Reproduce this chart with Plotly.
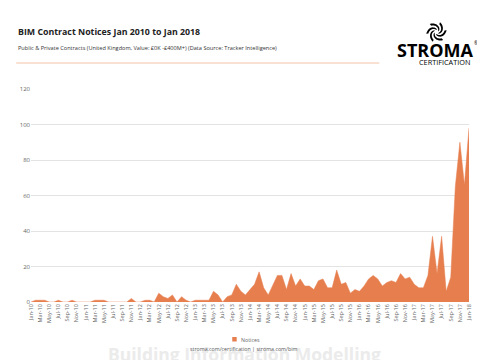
import numpy as np
import plotly.graph_objects as go

months = ["Jan", "Feb", "Mar", "Apr", "May", "Jun", "Jul", "Aug", "Sep", "Oct", "Nov", "Dec"]
categories = [f"{m}-{y:02d}" for y in range(10, 18) for m in months] + ["Jan-18"]

notices = [
    0, 1, 1, 1, 0, 0, 1, 0, 0, 1, 0, 0,          # 2010
    0, 0, 1, 1, 1, 0, 0, 0, 0, 0, 2, 0,          # 2011
    0, 1, 1, 0, 5, 3, 2, 4, 0, 3, 1, 0,          # 2012
    1, 1, 1, 1, 6, 4, 0, 3, 4, 10, 6, 4,         # 2013
    7, 10, 17, 8, 4, 10, 15, 15, 7, 16, 9, 13,   # 2014
    9, 9, 7, 12, 13, 8, 8, 18, 10, 11, 5, 7,     # 2015
    6, 9, 13, 15, 13, 9, 11, 12, 11, 16, 13, 14, # 2016
    10, 8, 8, 15, 37, 16, 37, 6, 14, 65, 90, 66, # 2017
    98,                                          # 2018
]
tick_labels = categories[::2]
y_ticks = [0, 20, 40, 60, 80, 100, 120]
series_name = "Notices"

# page geometry (page has an 8px body margin)
OFF = 8
PW, PH = 485, 360
L, R, T, B = 25, 469, 89, 302
FONT = "Open Sans"
ORANGE = "#E67E4E"

def px(x):
    return (x - L) / (R - L)

def py(y):
    return (B - y) / (B - T)

x_idx = list(range(len(categories)))

fig = go.Figure()
fig.add_trace(go.Scatter(
    x=x_idx, y=notices, mode="lines", fill="tozeroy",
    line=dict(color=ORANGE, width=0.5), fillcolor=ORANGE,
    name=series_name, showlegend=False, hoverinfo="skip",
))

fig.update_layout(
    width=PW - OFF, height=PH - OFF,
    margin=dict(l=L - OFF, r=PW - R, t=T - OFF, b=PH - B),
    paper_bgcolor="white", plot_bgcolor="white",
    font=dict(family=FONT, color="#666666", size=6),
    showlegend=False,
    xaxis=dict(range=[0, len(categories) - 1], tickmode="array",
               tickvals=x_idx[::2], ticktext=tick_labels, tickangle=-90,
               showgrid=False, zeroline=False, showline=False, ticks="",
               tickfont=dict(size=5.5, color="#666666")),
    yaxis=dict(range=[0, 120], tickvals=y_ticks, showgrid=True, gridcolor="#e3e3e3",
               gridwidth=1, zeroline=False, showline=False, ticks="",
               tickfont=dict(size=6, color="#666666")),
)

shapes = []
shapes.append(dict(type="line", xref="paper", yref="paper", x0=px(10), x1=px(378),
                   y0=py(63), y1=py(63), line=dict(color="#F2C4A6", width=1)))
# legend swatch
shapes.append(dict(type="rect", xref="paper", yref="paper", x0=px(229), x1=px(233.5),
                   y0=py(341.5), y1=py(337), fillcolor=ORANGE, line=dict(width=0)))

# logo swirl blades
cx, cy, rad = 436, 32, 10.5
for k in range(6):
    a0 = np.deg2rad(60 * k + 15)
    t = np.linspace(0, 1, 16)
    outer_a = a0 + t * np.deg2rad(115)
    outer_r = 2.0 + t * (rad - 2.0)
    inner_a = a0 + np.deg2rad(115) - t * np.deg2rad(70)
    inner_r = rad - 2.2 - t * (rad - 5.5)
    xs = list(cx + outer_r * np.cos(outer_a)) + list(cx + inner_r * np.cos(inner_a))
    ys = list(cy - outer_r * np.sin(outer_a)) + list(cy - inner_r * np.sin(inner_a))
    path = "M " + " L ".join(f"{px(a):.4f},{py(b):.4f}" for a, b in zip(xs, ys)) + " Z"
    shapes.append(dict(type="path", xref="paper", yref="paper", path=path,
                       fillcolor="black", line=dict(color="black", width=0)))
fig.update_layout(shapes=shapes)

def text(s, x, y, size, color, anchor="left"):
    return dict(text=s, x=px(x), y=py(y), xref="paper", yref="paper", xanchor=anchor,
                yanchor="middle", showarrow=False, font=dict(family=FONT, size=size, color=color))

ann = [
    text("<b>BIM Contract Notices Jan 2010 to Jan 2018</b>", 10, 32, 8.8, "#222222"),
    text("Public & Private Contracts (United Kingdom, Value: £0K -£400M+) (Data Source: Tracker Intelligence)",
         10, 48, 5.6, "#333333"),
    text("<b>STROMA</b>", 435, 50, 18, "black", "center"),
    text("®", 476, 43, 4.5, "black", "center"),
    text("CERTIFICATION", 444, 62, 7.3, "black", "center"),
    text("<b>Building Information Modelling</b>", 241, 353.5, 17.5, "#ebebeb", "center"),
    text(series_name, 235.5, 339.5, 5.3, "#666666"),
    text("stroma.com/certification | stroma.com/bim", 241, 349, 5.3, "#555555", "center"),
]
fig.update_layout(annotations=ann)

fig.write_html("out.html")
